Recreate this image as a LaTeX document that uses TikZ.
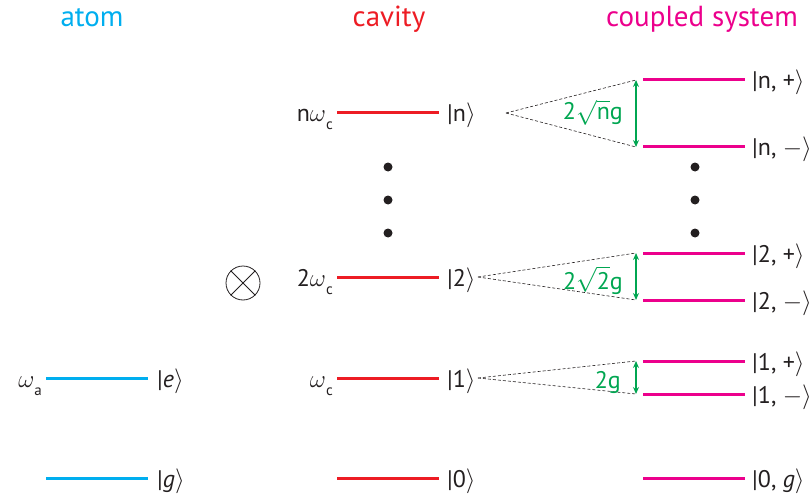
\documentclass[tikz,border=0pt]{standalone}
\usepackage{fontspec}
\setmainfont{PT Sans}
\usetikzlibrary{arrows.meta}
\definecolor{atomc}{RGB}{0,174,239}
\definecolor{cavc}{RGB}{237,28,36}
\definecolor{coupc}{RGB}{236,0,140}
\definecolor{greenc}{RGB}{0,166,81}
\definecolor{dotc}{RGB}{35,31,32}
\newcommand{\subsc}[1]{\raisebox{-8pt}{\fontsize{15}{17}\selectfont #1}}
\newcommand{\rket}{$\rangle$}
\begin{document}
\begin{tikzpicture}[x=1pt,y=-1pt,
  atomlvl/.style={draw=atomc,line width=3pt},
  cavlvl/.style={draw=cavc,line width=3pt},
  couplvl/.style={draw=coupc,line width=3pt},
  title/.style={font=\fontsize{29}{33}\selectfont,inner sep=0pt,anchor=base},
  lbl/.style={font=\fontsize{24}{28}\selectfont,text=dotc,inner sep=0pt},
  rlbl/.style={lbl,anchor=base west},
  llbl/.style={lbl,anchor=base east},
  glbl/.style={font=\fontsize{24}{28}\selectfont,text=greenc,inner sep=0pt,anchor=base east},
  dline/.style={draw=dotc,dashed,dash pattern=on 3pt off 2pt,line width=0.6pt},
  garrow/.style={draw=greenc,line width=1.2pt,{Stealth[length=7pt,width=6pt]}-{Stealth[length=7pt,width=6pt]}},
  dotnode/.style={circle,fill=dotc,inner sep=0pt,minimum size=9pt}]
\useasboundingbox (0,0) rectangle (811,500);

% titles
\node[title,text=atomc] (tatom) at (92,27) {atom};
\node[title,text=cavc] (tcav) at (389,27) {cavity};
\node[title,text=coupc] (tcoup) at (702,27) {coupled system};

% atom
\coordinate (ae1) at (46,378); \coordinate (ae2) at (148,378);
\coordinate (ag1) at (46,478); \coordinate (ag2) at (148,478);
\draw[atomlvl] (ae1) -- (ae2);
\draw[atomlvl] (ag1) -- (ag2);
\node[rlbl] (le) at (157,387) {|\textit{e}\rket};
\node[rlbl] (lg) at (157,487) {|\textit{g}\rket};
\node[llbl] (lwa) at (42,387) {$\omega$\subsc{a}};

% tensor product
\node[circle,draw=dotc,line width=0.8pt,minimum size=34pt,inner sep=0pt] (otimes) at (243,283) {};
\draw[dotc,line width=0.8pt] (otimes.north west) -- (otimes.south east);
\draw[dotc,line width=0.8pt] (otimes.north east) -- (otimes.south west);

% cavity
\foreach \nm/\yy in {n/113,c2/277,c1/378,c0/478}{
  \coordinate (\nm l) at (337,\yy); \coordinate (\nm r) at (439,\yy);
  \draw[cavlvl] (\nm l) -- (\nm r);
}
\node[rlbl] (kn) at (447,122) {|n\rket};
\node[rlbl] (k2) at (447,286) {|2\rket};
\node[rlbl] (k1) at (447,387) {|1\rket};
\node[rlbl] (k0) at (447,487) {|0\rket};
\node[llbl] (wn) at (333,122) {n$\omega$\subsc{c}};
\node[llbl] (w2) at (333,286) {2$\omega$\subsc{c}};
\node[llbl] (w1) at (333,387) {$\omega$\subsc{c}};
\node[dotnode] (cd1) at (388,167) {};
\node[dotnode] (cd2) at (388,200) {};
\node[dotnode] (cd3) at (388,233) {};

% coupled system
\foreach \nm/\yy in {np/80,nm/147,tp/253,tm/300,op/361,om/394,zg/478}{
  \coordinate (\nm l) at (643,\yy); \coordinate (\nm r) at (745,\yy);
  \draw[couplvl] (\nm l) -- (\nm r);
}
\node[rlbl] (snp) at (752,89) {|n, +\rket};
\node[rlbl] (snm) at (752,156) {|n, $-$\rket};
\node[rlbl] (stp) at (752,262) {|2, +\rket};
\node[rlbl] (stm) at (752,309) {|2, $-$\rket};
\node[rlbl] (sop) at (752,370) {|1, +\rket};
\node[rlbl] (som) at (752,403) {|1, $-$\rket};
\node[rlbl] (szg) at (752,487) {|0, \textit{g}\rket};
\node[dotnode] (sd1) at (695,167) {};
\node[dotnode] (sd2) at (695,200) {};
\node[dotnode] (sd3) at (695,233) {};

% dashed connectors
\coordinate (dn) at (506,113);
\coordinate (d2) at (478,277);
\coordinate (d1) at (478,378);
\coordinate (anp) at (636,80); \coordinate (anm) at (636,147);
\coordinate (atp) at (636,253); \coordinate (atm) at (636,300);
\coordinate (aop) at (636,361); \coordinate (aom) at (636,394);
\draw[dline] (dn) -- (anp); \draw[dline] (dn) -- (anm);
\draw[dline] (d2) -- (atp); \draw[dline] (d2) -- (atm);
\draw[dline] (d1) -- (aop); \draw[dline] (d1) -- (aom);

% green splittings
\draw[garrow] (anp) -- (anm);
\draw[garrow] (atp) -- (atm);
\draw[garrow] (aop) -- (aom);
\node[glbl] (gn) at (623,120) {2$\sqrt{\mbox{n}}$g};
\node[glbl] (g2) at (623,289) {2$\sqrt{\mbox{2}}$g};
\node[glbl] (g1) at (621,388) {2g};
\end{tikzpicture}
\end{document}
